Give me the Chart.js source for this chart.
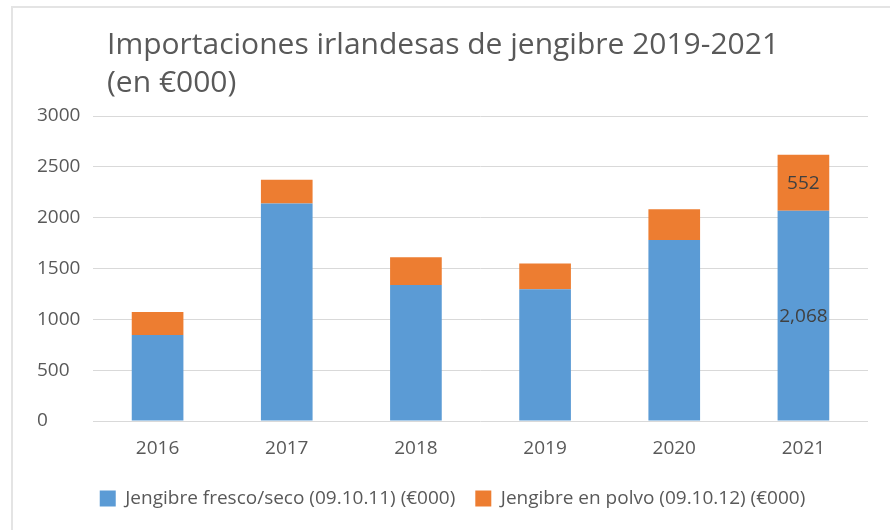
<!DOCTYPE html>
<html>
<head>
<meta charset="utf-8">
<script src="https://cdn.jsdelivr.net/npm/chart.js@4.4.1/dist/chart.umd.min.js"></script>
<style>
  html, body { margin: 0; padding: 0; background: #fff; }
  #wrap { position: relative; width: 890px; height: 530px; overflow: hidden; }
  #frame { position: absolute; left: 11px; top: 6px; width: 900px; height: 600px;
           border-top: 2px solid #e4e4e4; border-left: 2px solid #e4e4e4; }
  #title { position: absolute; left: 107px; top: 24px; font-family: "Open Sans", sans-serif;
           font-size: 30px; line-height: 38px; color: #595959; }
  canvas { position: absolute; left: 0; top: 0; }
</style>
</head>
<body>
<div id="wrap">
  <div id="frame"></div>
  <canvas id="barChart" width="890" height="530"></canvas>
  <div id="title">Importaciones irlandesas de jengibre 2019-2021<br>(en €000)</div>
</div>
<script>
const years = ["2016", "2017", "2018", "2019", "2020", "2021"];
const freshDried = [845, 2140, 1338, 1297, 1780, 2068];
const powder = [228, 234, 272, 253, 303, 552];
const yTicks = [0, 500, 1000, 1500, 2000, 2500, 3000];
const labelledYears = ["2021"];

const textColor = "#595959";
const font = "'Open Sans', sans-serif";

// value labels for the labelled years, centred in each segment
const segmentLabels = {
  id: 'segmentLabels',
  afterDatasetsDraw(chart) {
    const ctx = chart.ctx;
    ctx.save();
    ctx.font = "19px " + font;
    ctx.fillStyle = "#404040";
    ctx.textAlign = "center";
    ctx.textBaseline = "middle";
    chart.data.datasets.forEach((ds, di) => {
      const meta = chart.getDatasetMeta(di);
      meta.data.forEach((bar, i) => {
        if (!labelledYears.includes(years[i])) return;
        const p = bar.getProps(['x', 'y', 'base'], true);
        ctx.fillText(ds.data[i].toLocaleString('en-US'), p.x, (p.y + p.base) / 2 + 1);
      });
    });
    ctx.restore();
  }
};

new Chart(document.getElementById("barChart").getContext("2d"), {
  type: 'bar',
  data: {
    labels: years,
    datasets: [{
      label: 'Jengibre fresco/seco (09.10.11) (€000)',
      data: freshDried,
      backgroundColor: "#5B9BD5"
    }, {
      label: 'Jengibre en polvo (09.10.12) (€000)',
      data: powder,
      backgroundColor: "#ED7D31"
    }]
  },
  options: {
    responsive: false,
    animation: false,
    layout: { padding: { left: 37, right: 22, top: 116, bottom: 12 } },
    datasets: { bar: { categoryPercentage: 1, barPercentage: 0.4 } },
    plugins: {
      title: { display: false },
      tooltip: { enabled: false },
      legend: {
        position: 'bottom',
        labels: {
          color: textColor,
          font: { family: font, size: 19 },
          boxWidth: 16, boxHeight: 16, padding: 20
        }
      }
    },
    scales: {
      x: {
        stacked: true,
        grid: { display: false },
        border: { display: false },
        ticks: { color: textColor, font: { family: font, size: 19 }, padding: 8 },
        afterFit(scale) { scale.height = 48; }
      },
      y: {
        stacked: true,
        min: 0, max: 3000,
        afterBuildTicks(scale) { scale.ticks = yTicks.map(v => ({ value: v })); },
        grid: { color: "#d9d9d9", lineWidth: 1, drawTicks: false },
        border: { display: false },
        ticks: {
          color: textColor, font: { family: font, size: 19 }, crossAlign: 'far', padding: 0,
          callback: v => String(v)
        },
        afterFit(scale) { scale.width = 56; }
      }
    }
  },
  plugins: [segmentLabels]
});
</script>
</body>
</html>
